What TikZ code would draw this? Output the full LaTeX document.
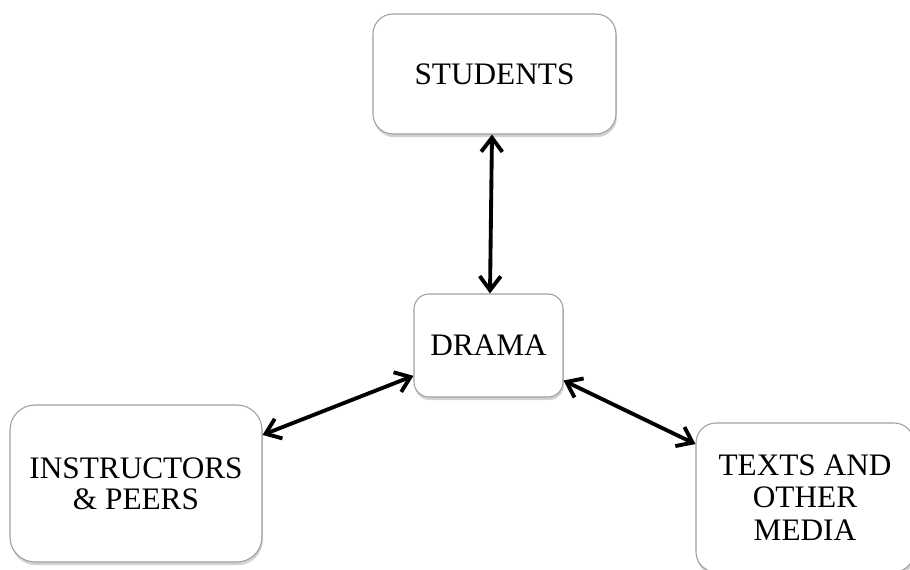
\documentclass[tikz,border=0pt]{standalone}
\usepackage{fontspec}
\setmainfont{Liberation Serif}
\usetikzlibrary{arrows.meta, shadows}

\begin{document}
\begin{tikzpicture}[
    caixa/.style={draw=gray!75, line width=0.6pt, fill=white, rounded corners=0.4cm,
        align=center, inner sep=0pt, font=\fontsize{17.8}{17.5}\selectfont,
        drop shadow={shadow xshift=0.5pt, shadow yshift=-1.8pt, opacity=0.35}},
    seta/.style={line width=2.2pt,
        {Straight Barb[length=8pt,width=12pt]}-{Straight Barb[length=8pt,width=12pt]}}
]
    % Moldura (910 x 570 px, 1 px = 0.02 cm)
    \useasboundingbox (0,0) rectangle (18.2,11.4);

    % Caixas
    \node[caixa, minimum width=4.86cm, minimum height=2.40cm] (ST) at (9.89,9.92) {STUDENTS};
    \node[caixa, minimum width=2.98cm, minimum height=2.06cm, rounded corners=0.3cm] (DR) at (9.77,4.49) {DRAMA};
    \node[caixa, minimum width=5.04cm, minimum height=3.14cm, rounded corners=0.5cm] (IP) at (2.72,1.73) {INSTRUCTORS\\\& PEERS};
    \node[caixa, minimum width=4.36cm, minimum height=2.98cm, font=\fontsize{17.8}{18.5}\selectfont] (TM) at (16.1,1.45) {TEXTS AND\\OTHER\\MEDIA};

    % Setas duplas
    \draw[seta] ([xshift=-0.05cm]ST.south) -- ([xshift=0.03cm]DR.north);
    \draw[seta] (DR.202) -- (IP.21);
    \draw[seta] (DR.335) -- (TM.154);

\end{tikzpicture}
\end{document}
